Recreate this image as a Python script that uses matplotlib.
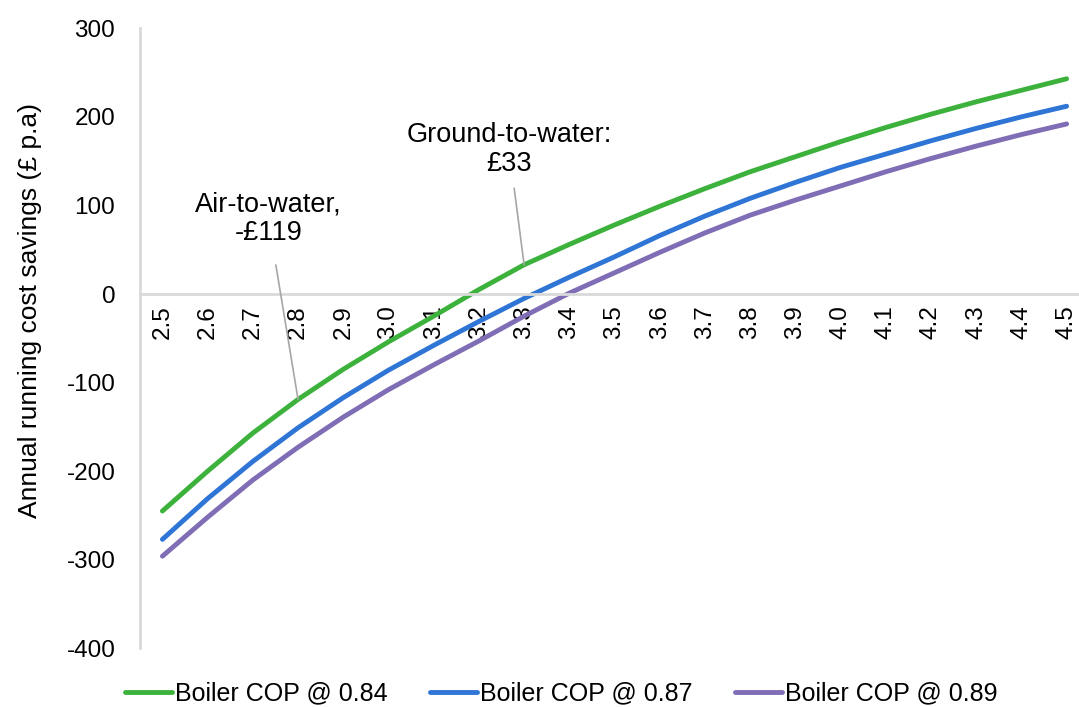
import matplotlib
matplotlib.use("Agg")
import matplotlib.pyplot as plt

plt.rcParams['font.family'] = ['Liberation Sans', 'DejaVu Sans']
plt.rcParams['axes.unicode_minus'] = False

cop = ["2.5", "2.6", "2.7", "2.8", "2.9", "3.0", "3.1", "3.2", "3.3", "3.4", "3.5",
       "3.6", "3.7", "3.8", "3.9", "4.0", "4.1", "4.2", "4.3", "4.4", "4.5"]

boiler_084 = [-245, -200, -157, -119, -85, -54, -25, 5, 33, 56, 78,
              99, 119, 138, 155, 172, 188, 203, 217, 230, 243]
boiler_087 = [-277, -231, -189, -151, -117, -86, -58, -31, -5, 19, 42,
              66, 88, 108, 126, 143, 158, 173, 187, 200, 212]
boiler_089 = [-296, -252, -210, -173, -139, -108, -80, -53, -25, 1, 24,
              47, 69, 89, 106, 122, 138, 153, 167, 180, 192]

labels = ["Boiler COP @ 0.84", "Boiler COP @ 0.87", "Boiler COP @ 0.89"]
colors = ["#3cb23c", "#2e75d6", "#7f6db5"]

fig = plt.figure(figsize=(10.79, 7.07), dpi=100)
ax = fig.add_axes([0.130, 0.083, 0.869, 0.877])

x = list(range(len(cop)))
for ys, lab, c in zip([boiler_084, boiler_087, boiler_089], labels, colors):
    ax.plot(x, ys, color=c, lw=3.5, label=lab, solid_capstyle='round')

ax.set_ylim(-400, 300)
ax.set_xlim(-0.49, 20.25)
ax.set_yticks(range(-400, 301, 100))
ax.set_xticks(x)
ax.set_xticklabels(cop)
ax.tick_params(axis='both', length=0, labelsize=17.5)
ax.tick_params(axis='x', pad=8, labelrotation=90)
ax.tick_params(axis='y', pad=18)

for s in ['top', 'right']:
    ax.spines[s].set_visible(False)
ax.spines['bottom'].set_position(('data', 0))
ax.spines['bottom'].set_color('#d9d9d9')
ax.spines['bottom'].set_linewidth(2)
ax.spines['left'].set_color('#d9d9d9')
ax.spines['left'].set_linewidth(2)

ax.set_ylabel("Annual running cost savings (£ p.a)", fontsize=19)
ax.yaxis.set_label_coords(-0.105, 0.545)

# call-outs
ax.annotate("Air-to-water,\n-£119", xy=(3, boiler_084[3]), xytext=(2.34, 85),
            ha='center', va='center', fontsize=19.5, linespacing=1.1,
            arrowprops=dict(arrowstyle='-', color='#a6a6a6', lw=1.2,
                            shrinkA=12, shrinkB=0))
ax.annotate("Ground-to-water:\n£33", xy=(8, boiler_084[8]), xytext=(7.67, 163),
            ha='center', va='center', fontsize=19.5, linespacing=1.15,
            arrowprops=dict(arrowstyle='-', color='#a6a6a6', lw=1.2,
                            shrinkA=6, shrinkB=0))

fig.legend(loc='lower center', bbox_to_anchor=(0.52, -0.03), ncol=3, frameon=False,
           fontsize=18, handlelength=1.9, handletextpad=0.1, columnspacing=1.7)

fig.savefig("out.png", dpi=100)
